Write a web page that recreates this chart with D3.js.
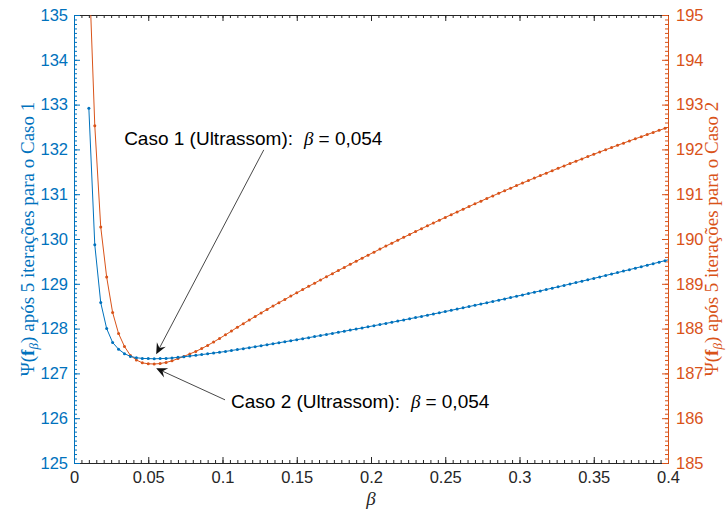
<!DOCTYPE html>
<html>
<head>
<meta charset="utf-8">
<script src="https://cdn.jsdelivr.net/npm/d3@7/dist/d3.min.js"></script>
<style>
  body { margin: 0; background: #fff; }
  svg { display: block; }
</style>
</head>
<body>
<script>
// Regularization parameter grid (beta)
const beta = [
  0.010,0.014,0.018,0.022,0.026,0.030,0.034,0.038,0.042,0.046,
  0.050,0.054,0.058,0.062,0.066,0.070,0.074,0.078,0.082,0.086,
  0.090,0.094,0.098,0.102,0.106,0.110,0.114,0.118,0.122,0.126,
  0.130,0.134,0.138,0.142,0.146,0.150,0.154,0.158,0.162,0.166,
  0.170,0.174,0.178,0.182,0.186,0.190,0.194,0.198,0.202,0.206,
  0.210,0.214,0.218,0.222,0.226,0.230,0.234,0.238,0.242,0.246,
  0.250,0.254,0.258,0.262,0.266,0.270,0.274,0.278,0.282,0.286,
  0.290,0.294,0.298,0.302,0.306,0.310,0.314,0.318,0.322,0.326,
  0.330,0.334,0.338,0.342,0.346,0.350,0.354,0.358,0.362,0.366,
  0.370,0.374,0.378,0.382,0.386,0.390,0.394,0.398,0.402
];

// Psi(f_beta) after 5 iterations, case 1 (left axis)
const caso1 = [
  132.92,129.87,128.58,128.00,127.69,127.54,127.44,127.38,127.35,127.335,
  127.33,127.327,127.33,127.335,127.345,127.358,127.372,127.387,127.403,127.42,
  127.437,127.454,127.471,127.49,127.511,127.532,127.553,127.575,127.596,127.618,
  127.64,127.662,127.684,127.707,127.729,127.752,127.775,127.798,127.822,127.845,
  127.869,127.893,127.917,127.941,127.966,127.99,128.015,128.04,128.065,128.09,
  128.116,128.141,128.167,128.193,128.22,128.246,128.272,128.299,128.326,128.353,
  128.381,128.408,128.436,128.464,128.492,128.52,128.548,128.577,128.605,128.634,
  128.663,128.693,128.722,128.752,128.782,128.812,128.842,128.872,128.903,128.933,
  128.964,128.995,129.027,129.058,129.09,129.121,129.153,129.186,129.218,129.25,
  129.283,129.316,129.349,129.382,129.416,129.449,129.483,129.517,129.551
];

// Psi(f_beta) after 5 iterations, case 2 (right axis)
const caso2 = [
  196.2,192.53,190.27,189.15,188.36,187.89,187.6,187.4,187.3,187.235,
  187.215,187.21,187.22,187.245,187.28,187.33,187.38,187.435,187.49,187.555,
  187.625,187.7,187.78,187.86,187.945,188.03,188.11,188.19,188.27,188.35,
  188.428,188.503,188.578,188.651,188.725,188.798,188.87,188.943,189.014,189.086,
  189.156,189.227,189.297,189.366,189.435,189.504,189.572,189.64,189.707,189.774,
  189.841,189.907,189.972,190.037,190.102,190.166,190.23,190.294,190.357,190.419,
  190.481,190.543,190.604,190.665,190.725,190.785,190.845,190.904,190.962,191.02,
  191.078,191.135,191.192,191.249,191.304,191.36,191.415,191.47,191.524,191.578,
  191.631,191.684,191.736,191.788,191.84,191.891,191.942,191.992,192.042,192.091,
  192.14,192.189,192.237,192.284,192.332,192.378,192.425,192.47,192.516
];

const xTicks = [0, 0.05, 0.1, 0.15, 0.2, 0.25, 0.3, 0.35, 0.4];
const xTickLabels = ["0", "0.05", "0.1", "0.15", "0.2", "0.25", "0.3", "0.35", "0.4"];
const leftTicks = [125, 126, 127, 128, 129, 130, 131, 132, 133, 134, 135];
const rightTicks = [185, 186, 187, 188, 189, 190, 191, 192, 193, 194, 195];

// Annotations: text, optimum beta, tail position (beta, left-axis value)
const noteLabels = ["Caso 1 (Ultrassom):", "Caso 2 (Ultrassom):"];
const noteBeta = [0.054, 0.054];
const noteTail = [[0.1278, 131.99], [0.1017, 126.41]];

const W = 726, H = 512;
const M = { left: 74, right: 668, top: 15, bottom: 463 };
const BLUE = "#0072BD", ORANGE = "#D95319", AX = "#262626";

const svg = d3.select("body").append("svg").attr("width", W).attr("height", H);

const x = d3.scaleLinear().domain([0, 0.4]).range([M.left, M.right]);
const yL = d3.scaleLinear().domain([125, 135]).range([M.bottom, M.top]);
const yR = d3.scaleLinear().domain([185, 195]).range([M.bottom, M.top]);

svg.append("defs").append("clipPath").attr("id", "plot")
  .append("rect").attr("x", M.left).attr("y", M.top)
  .attr("width", M.right - M.left).attr("height", M.bottom - M.top);

const tickFont = "'Liberation Sans', Arial, Helvetica, sans-serif";

function styleAxis(g, color) {
  g.selectAll("path.domain").attr("stroke", color).attr("stroke-width", 1);
  g.selectAll("line").attr("stroke", color).attr("stroke-width", 1);
  g.selectAll("text").attr("fill", color).attr("font-family", tickFont).attr("font-size", 16.5);
}

// Minor ticks
const gMinor = svg.append("g");
gMinor.append("g").attr("transform", `translate(0,${M.bottom})`)
  .call(d3.axisBottom(x).tickValues(x.ticks(80)).tickSize(-3).tickSizeOuter(0).tickFormat(""))
  .call(g => styleAxis(g, AX));
gMinor.append("g").attr("transform", `translate(0,${M.top})`)
  .call(d3.axisTop(x).tickValues(x.ticks(80)).tickSize(-3).tickSizeOuter(0).tickFormat(""))
  .call(g => styleAxis(g, AX));
gMinor.append("g").attr("transform", `translate(${M.left},0)`)
  .call(d3.axisLeft(yL).tickValues(yL.ticks(100)).tickSize(-3).tickSizeOuter(0).tickFormat(""))
  .call(g => styleAxis(g, BLUE));
gMinor.append("g").attr("transform", `translate(${M.right},0)`)
  .call(d3.axisRight(yR).tickValues(yR.ticks(100)).tickSize(-3).tickSizeOuter(0).tickFormat(""))
  .call(g => styleAxis(g, ORANGE));

// Major ticks and labels
svg.append("g").attr("transform", `translate(0,${M.top})`)
  .call(d3.axisTop(x).tickValues(xTicks).tickSize(-6).tickSizeOuter(0).tickFormat(""))
  .call(g => styleAxis(g, AX));
svg.append("g").attr("transform", `translate(0,${M.bottom})`)
  .call(d3.axisBottom(x).tickValues(xTicks).tickSize(-6).tickSizeOuter(0).tickPadding(8)
    .tickFormat((d, i) => xTickLabels[i]))
  .call(g => styleAxis(g, AX));
svg.append("g").attr("transform", `translate(${M.left},0)`)
  .call(d3.axisLeft(yL).tickValues(leftTicks).tickSize(-6).tickSizeOuter(0).tickPadding(6)
    .tickFormat(d3.format("d")))
  .call(g => styleAxis(g, BLUE));
svg.append("g").attr("transform", `translate(${M.right},0)`)
  .call(d3.axisRight(yR).tickValues(rightTicks).tickSize(-6).tickSizeOuter(0).tickPadding(8)
    .tickFormat(d3.format("d")))
  .call(g => styleAxis(g, ORANGE));

// Data series
const plot = svg.append("g").attr("clip-path", "url(#plot)");
function series(values, yScale, color) {
  const pts = beta.map((b, i) => [x(b), yScale(values[i])]);
  plot.append("path").attr("d", d3.line()(pts))
    .attr("fill", "none").attr("stroke", color).attr("stroke-width", 1);
  plot.append("g").selectAll("circle").data(pts).join("circle")
    .attr("cx", d => d[0]).attr("cy", d => d[1]).attr("r", 1.5).attr("fill", color);
}
series(caso2, yR, ORANGE);
series(caso1, yL, BLUE);

// Axis titles
const serif = "'Liberation Serif', 'Times New Roman', serif";
function yTitle(cx, color, caseNo) {
  const t = svg.append("text")
    .attr("transform", `translate(${cx},${(M.top + M.bottom) / 2}) rotate(-90)`)
    .attr("text-anchor", "middle").attr("fill", color)
    .attr("font-family", serif).attr("font-size", 19);
  t.append("tspan").text("Ψ(");
  t.append("tspan").attr("font-weight", "bold").text("f");
  t.append("tspan").attr("font-style", "italic").attr("font-size", 13).attr("dy", 4).text("β");
  t.append("tspan").attr("dy", -4).text(")");
  t.append("tspan").attr("dx", 5).text(`após 5 iterações para o Caso ${caseNo}`);
}
yTitle(34, BLUE, 1);
yTitle(718, ORANGE, 2);

svg.append("text").attr("x", (M.left + M.right) / 2).attr("y", 505)
  .attr("text-anchor", "middle").attr("fill", AX)
  .attr("font-family", serif).attr("font-style", "italic").attr("font-size", 19)
  .text("β");

// Arrow annotations pointing at the optimum beta of each case
function arrow(x1, y1, x2, y2) {
  const a = Math.atan2(y2 - y1, x2 - x1);
  const ux = Math.cos(a), uy = Math.sin(a), nx = -uy, ny = ux;
  const L = 11, hw = 5, notch = 7;
  svg.append("line").attr("x1", x1).attr("y1", y1)
    .attr("x2", x2 - ux * notch).attr("y2", y2 - uy * notch)
    .attr("stroke", "#333").attr("stroke-width", 0.9);
  const p = [
    [x2, y2],
    [x2 - ux * L + nx * hw, y2 - uy * L + ny * hw],
    [x2 - ux * notch, y2 - uy * notch],
    [x2 - ux * L - nx * hw, y2 - uy * L - ny * hw]
  ];
  svg.append("path").attr("d", "M" + p.map(q => q.join(",")).join("L") + "Z").attr("fill", "#111");
}

const sans = "'Liberation Sans', Arial, Helvetica, sans-serif";
function noteText(tx, ty, anchor, label, b) {
  const t = svg.append("text").attr("x", tx).attr("y", ty).attr("text-anchor", anchor)
    .attr("font-family", sans).attr("font-size", 19).attr("fill", "#000");
  t.append("tspan").text(label);
  t.append("tspan").attr("dx", 11).attr("font-family", serif).attr("font-style", "italic").text("β");
  t.append("tspan").attr("dx", 5).text("= " + d3.format(".3f")(b).replace(".", ","));
}

// Case 1: arrow from above down to the blue minimum
{
  const i = beta.indexOf(noteBeta[0]);
  const tipX = x(noteBeta[0]) + 2, tipY = yL(caso1[i]) - 4.5;
  const tx = x(noteTail[0][0]), ty = yL(noteTail[0][1]);
  arrow(tx, ty, tipX, tipY);
  noteText(tx - 10.5, ty - 5, "middle", noteLabels[0], noteBeta[0]);
}
// Case 2: arrow from below-right up to the orange minimum
{
  const i = beta.indexOf(noteBeta[1]);
  const tipX = x(noteBeta[1]) + 2, tipY = yR(caso2[i]) + 4.3;
  const tx = x(noteTail[1][0]), ty = yL(noteTail[1][1]);
  arrow(tx, ty, tipX, tipY);
  noteText(tx + 6, ty + 8, "start", noteLabels[1], noteBeta[1]);
}
</script>
</body>
</html>
